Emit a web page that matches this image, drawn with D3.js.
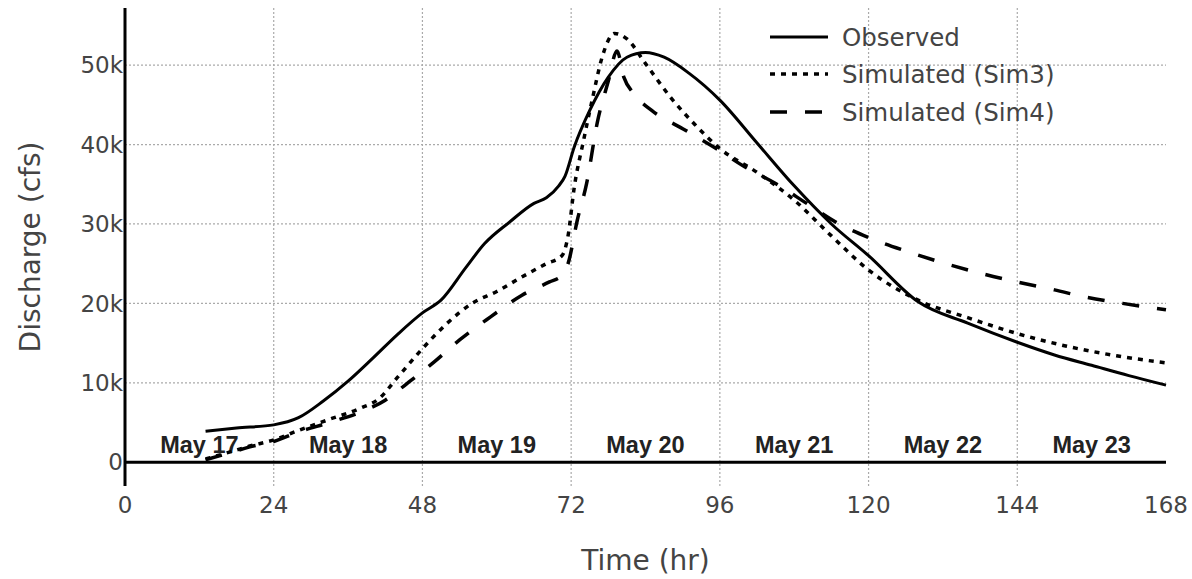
<!DOCTYPE html>
<html><head><meta charset="utf-8">
<script src="https://cdn.jsdelivr.net/npm/d3@7"></script>
<style>body{margin:0;background:#fff}svg{display:block}</style>
</head><body><svg id="c" width="1192" height="579"></svg>
<script>
// ---- data (hours, discharge in cfs) ----
const obsHours = [13,18,24,28,32,36,40,44,48,51,55,58,62,66,68,70,71,72.5,75,78,81,84,87,91,96,102,108,114,120,128,136,144,150,156,162,168];
const obsValues = [3900,4300,4700,5600,7700,10200,13100,16100,18800,20400,24500,27500,30200,32600,33300,34800,36000,39700,44300,48500,51000,51600,51000,49000,45600,40200,34800,30000,26000,20200,17500,15100,13500,12200,10900,9700];

const sim3Hours = [13,17,20,24,28,33,38,41,44,48,52,56,60,64,68,70.5,71.5,72.5,74,75.5,77,79,81,84,88,92,96,102,108,114,120,128,136,144,152,160,168];
const sim3Values = [400,1300,2000,2800,4000,5400,6800,8000,10700,14300,17500,20000,21500,23300,25000,26000,28500,34600,40500,46000,51000,54000,53300,50200,46000,42500,39500,36500,33000,28500,24200,20400,18200,16200,14600,13400,12500];

const sim4Hours = [13,17,20,24,28,33,38,42,45.5,50,54,59,64,68.5,70.5,71.5,73,74.5,76.2,78,79.4,80.5,82,85,90,95,100,105,110,115,120,126,132,138,144,150,155,161,168];
const sim4Values = [300,1200,1900,2600,3800,5000,6300,7800,9900,12700,15400,18300,21000,22700,23500,25000,30500,35100,42700,48000,51800,48500,46500,44300,42000,39700,37200,35100,32600,30100,28300,26600,25100,23800,22700,21700,20800,20000,19200];

const xTicks = [0,24,48,72,96,120,144,168];
const yTicks = [0,10000,20000,30000,40000,50000];
const yTickLabels = ["0","10k","20k","30k","40k","50k"];
const dayLabels = ["May 17","May 18","May 19","May 20","May 21","May 22","May 23"];
const dayCenters = [12,36,60,84,108,132,156];
const seriesNames = ["Observed","Simulated (Sim3)","Simulated (Sim4)"];

// ---- drawing ----
const svg = d3.select("#c");
const L = 125, R = 1166, T = 8, B = 486;
const x = d3.scaleLinear().domain([0,168]).range([L,R]);
const y = d3.scaleLinear().domain([-3000,57200]).range([B,T]);
const font = "'DejaVu Sans', Verdana, sans-serif";

// grid
svg.append("g").selectAll("line").data(xTicks.filter(d => d>0 && d<168)).join("line")
  .attr("x1", d=>x(d)).attr("x2", d=>x(d)).attr("y1", T).attr("y2", B)
  .attr("stroke","#aaa").attr("stroke-width",1.2).attr("stroke-dasharray","2,2");
svg.append("g").selectAll("line").data(yTicks.filter(d => d>0)).join("line")
  .attr("x1", L).attr("x2", R).attr("y1", d=>y(d)).attr("y2", d=>y(d))
  .attr("stroke","#aaa").attr("stroke-width",1.2).attr("stroke-dasharray","2,2");

// axes lines
svg.append("line").attr("x1",x(0)).attr("x2",x(0)).attr("y1",T).attr("y2",B)
  .attr("stroke","#000").attr("stroke-width",3);
svg.append("line").attr("x1",L).attr("x2",R).attr("y1",y(0)).attr("y2",y(0))
  .attr("stroke","#000").attr("stroke-width",3);

// tick labels
svg.append("g").selectAll("text").data(xTicks).join("text")
  .attr("x", d=>x(d)).attr("y", B+27).attr("text-anchor","middle")
  .attr("font-family",font).attr("font-size",23).attr("fill","#444").text(d=>d);
svg.append("g").selectAll("text").data(yTicks).join("text")
  .attr("x", L-2).attr("y", d=>y(d)).attr("dy","0.36em").attr("text-anchor","end")
  .attr("font-family",font).attr("font-size",23).attr("fill","#444").text((d,i)=>yTickLabels[i]);

// axis titles
svg.append("text").attr("x", (L+R)/2).attr("y", 570).attr("text-anchor","middle")
  .attr("font-family",font).attr("font-size",28).attr("fill","#444").text("Time (hr)");
svg.append("text").attr("transform",`translate(40,${(T+B)/2}) rotate(-90)`).attr("text-anchor","middle")
  .attr("font-family",font).attr("font-size",28).attr("fill","#444").text("Discharge (cfs)");

// day labels
svg.append("g").selectAll("text").data(dayLabels).join("text")
  .attr("x", (d,i)=>x(dayCenters[i])).attr("y", 453).attr("text-anchor","middle")
  .attr("font-family","'Liberation Sans', Arial, sans-serif").attr("font-weight","bold")
  .attr("font-size",23.5).attr("fill","#222").text(d=>d);

// lines
const line = d3.line().x(d=>x(d[0])).y(d=>y(d[1])).curve(d3.curveMonotoneX);
const series = [
  {h: obsHours, v: obsValues, dash: null, w: 3},
  {h: sim3Hours, v: sim3Values, dash: "5,6", w: 3.5},
  {h: sim4Hours, v: sim4Values, dash: "17,18", w: 3.5}
];
series.forEach(s => {
  svg.append("path").datum(s.h.map((h,i)=>[h,s.v[i]]))
    .attr("d", line).attr("fill","none").attr("stroke","#000")
    .attr("stroke-width", s.w).attr("stroke-dasharray", s.dash);
});

// legend
const lg = svg.append("g");
const rows = [37, 74, 112];
series.forEach((s,i) => {
  lg.append("line").attr("x1",770).attr("x2",828).attr("y1",rows[i]).attr("y2",rows[i])
    .attr("stroke","#000").attr("stroke-width",s.w).attr("stroke-dasharray", s.dash);
  lg.append("text").attr("x",842).attr("y",rows[i]).attr("dy","0.36em")
    .attr("font-family",font).attr("font-size",24.5).attr("fill","#444").text(seriesNames[i]);
});
</script></body></html>
